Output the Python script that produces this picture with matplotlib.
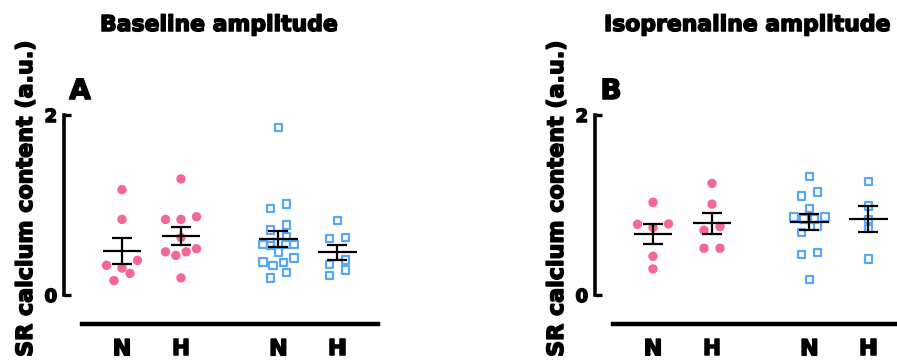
import numpy as np
import matplotlib.pyplot as plt
import matplotlib.patheffects as pe

# SR calcium content (a.u.), one value per cell
base_pink_N = [1.17, 0.84, 0.385, 0.33, 0.30, 0.24, 0.16]
base_pink_H = [1.29, 0.87, 0.84, 0.84, 0.64, 0.515, 0.48, 0.48, 0.44, 0.19]
base_blue_N = [1.86, 1.01, 0.96, 0.78, 0.72, 0.65, 0.58, 0.56, 0.56, 0.56,
               0.55, 0.48, 0.41, 0.37, 0.36, 0.33, 0.25, 0.19]
base_blue_H = [0.83, 0.64, 0.63, 0.39, 0.34, 0.28, 0.215]

iso_pink_N = [1.03, 0.79, 0.785, 0.75, 0.43, 0.29]
iso_pink_H = [1.24, 1.01, 0.76, 0.72, 0.52, 0.52]
iso_blue_N = [1.315, 1.144, 1.10, 0.963, 0.87, 0.87, 0.845, 0.845, 0.77,
              0.696, 0.474, 0.452, 0.174]
iso_blue_H = [1.26, 0.99, 0.84, 0.74, 0.40]

group_labels = ['N', 'H', 'N', 'H']
group_pos = [0, 1, 2.65, 3.65]

PINK = '#F5679A'
BLUE = '#58A8F5'
FONT = 'DejaVu Sans'
# fatten the bold glyphs a little
HEAVY = [pe.withStroke(linewidth=1.1, foreground='black')]

W, H = 897, 362
PX_X = 59.0   # pixels per x unit
PX_Y = 90.0   # pixels per y unit
XMIN, XMAX = -0.983, 4.34
YMIN, YMAX = -0.322, 2.056

fig = plt.figure(figsize=(W / 100, H / 100), dpi=100)


def swarm(values, row_px, max_span=31.0, max_step=16.0):
    # spread points that sit in the same horizontal band, centre out
    vals = np.asarray(values, dtype=float)
    offs = np.zeros(len(vals))
    rows = []
    for i in np.argsort(vals, kind='stable'):
        if rows and (vals[i] - vals[rows[-1][0]]) * PX_Y < row_px:
            rows[-1].append(i)
        else:
            rows.append([i])
    for row in rows:
        n = len(row)
        step = min(max_step, max_span / (n - 1)) if n > 1 else 0
        if n % 2:
            slots = [0, -1, 1, -2, 2, -3, 3][:n]
        else:
            slots = [-0.5, 0.5, -1.5, 1.5, -2.5, 2.5][:n]
        for i, s in zip(row, slots):
            offs[i] = s * step / PX_X
    return offs


def panel(left_px, groups, title, letter, title_x):
    ax_h = (YMAX - YMIN) * PX_Y
    ax_w = (XMAX - XMIN) * PX_X
    ax = fig.add_axes([left_px / W, 38 / H, ax_w / W, ax_h / H])
    ax.set_xlim(XMIN, XMAX)
    ax.set_ylim(YMIN, YMAX)

    for x0, (vals, kind) in zip(group_pos, groups):
        if kind == 'dot':
            off = swarm(vals, 9.5)
            ax.scatter(x0 + off, vals, s=46, color=PINK, edgecolors='none', zorder=2)
        else:
            off = swarm(vals, 8.0)
            ax.scatter(x0 + off, vals, s=30, marker='s', facecolors='none',
                       edgecolors=BLUE, linewidths=1.6, zorder=2)
        v = np.asarray(vals)
        m = v.mean()
        sem = v.std(ddof=1) / np.sqrt(len(v))
        ax.hlines(m, x0 - 0.33, x0 + 0.33, color='black', lw=1.6, zorder=3)
        ax.errorbar(x0, m, yerr=sem, fmt='none', ecolor='black', elinewidth=1.6,
                    capsize=7.2, capthick=1.6, zorder=3)

    for side in ['top', 'right']:
        ax.spines[side].set_visible(False)
    ax.spines['left'].set_bounds(0, 2)
    ax.spines['left'].set_linewidth(2.6)
    ax.spines['bottom'].set_bounds(-0.68, XMAX)
    ax.spines['bottom'].set_linewidth(3.2)

    ax.set_yticks([0, 2])
    ax.set_yticklabels(['0', '2'])
    ax.tick_params(axis='y', direction='in', length=5, width=2.4, pad=5)
    ax.tick_params(axis='x', length=0, pad=11)
    ax.set_xticks(group_pos)
    ax.set_xticklabels(group_labels)
    for lab in ax.get_xticklabels():
        lab.set_fontfamily(FONT)
        lab.set_fontweight('bold')
        lab.set_fontsize(16)
        lab.set_path_effects(HEAVY)
    for lab in ax.get_yticklabels():
        lab.set_fontfamily(FONT)
        lab.set_fontweight('bold')
        lab.set_fontsize(13)
        lab.set_path_effects(HEAVY)

    fig.text(title_x / W, 1 - 25 / H, title, ha='left', va='center',
             fontsize=15.8, fontweight='bold', family=FONT, path_effects=HEAVY)
    fig.text((left_px + 16) / W, 1 - 91 / H, letter, ha='center', va='center',
             fontsize=20, fontweight='bold', family=FONT, path_effects=HEAVY)
    fig.text((left_px - 38) / W, 1 - 40 / H, 'SR calcium content (a.u.)',
             rotation=90, ha='center', va='top', fontsize=16,
             fontweight='bold', family=FONT, path_effects=HEAVY)
    return ax


panel(64, [(base_pink_N, 'dot'), (base_pink_H, 'dot'),
           (base_blue_N, 'sq'), (base_blue_H, 'sq')],
      'Baseline amplitude', 'A', 100)
panel(595, [(iso_pink_N, 'dot'), (iso_pink_H, 'dot'),
            (iso_blue_N, 'sq'), (iso_blue_H, 'sq')],
      'Isoprenaline amplitude', 'B', 604)

fig.savefig('out.png', dpi=100)
